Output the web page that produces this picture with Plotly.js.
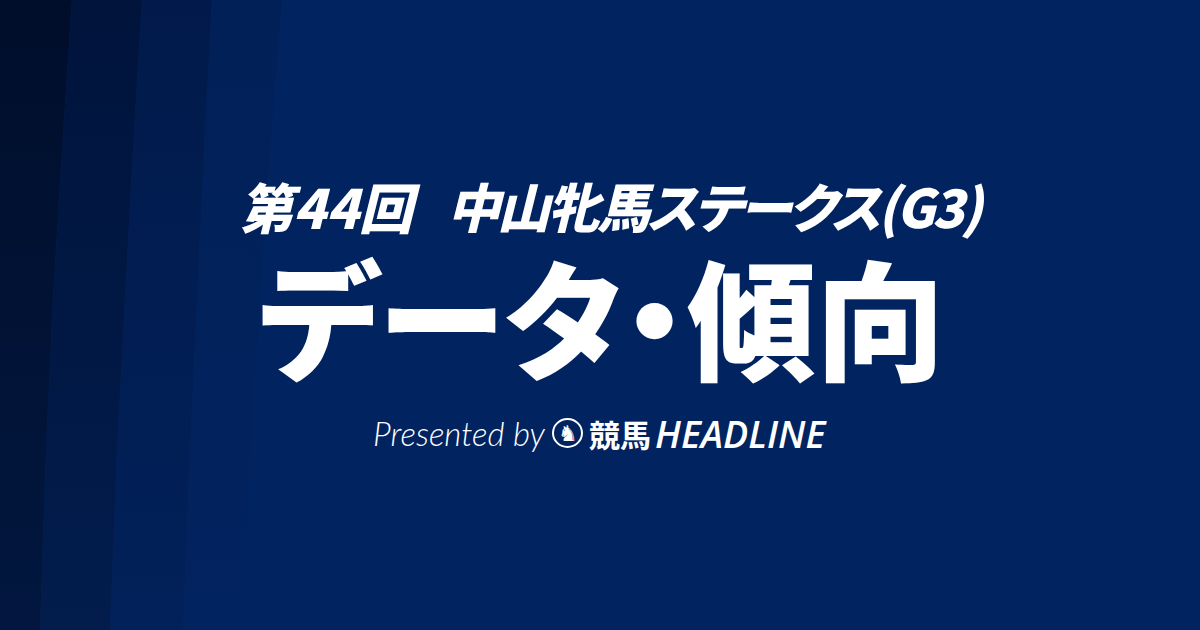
<!DOCTYPE html>
<html>
<head>
<meta charset="utf-8">
<script src="https://cdn.plot.ly/plotly-3.0.1.min.js"></script>
<style>
  html, body { margin: 0; padding: 0; background: #01235f; }
  #banner { width: 1200px; height: 630px; }
</style>
</head>
<body>
<div id="banner"></div>
<script>
// background stripes: boundary x positions at these heights (pixels from top)
var stripeY = [0, 150, 300, 450, 630];
var stripeEdges = [
	[72, 62, 53, 46, 40],
	[142, 133, 125, 117, 110],
	[212, 204, 197, 190, 183],
	[282, 270, 260, 250, 240]
];
// top colour / bottom colour of each stripe, leftmost first
var stripeTop = ['#000e2b', '#00143c', '#011a4b', '#012058'];
var stripeBottom = ['#02173f', '#021c4c', '#01215a', '#01235f'];
var bgColor = '#01235f';

// texts
var titleRound = '第44回';
var titleRace = '中山牝馬ステークス(G3)';
var subtitle = 'データ・傾向';
var presented = 'Presented by';
var brandJa = '競馬';
var brandEn = 'HEADLINE';

// proportional kana widths, like the original lettering
function palt(s, spacing) {
	return '<span style="font-feature-settings:\'palt\';letter-spacing:' + (spacing || 0) + 'px">' + s + '</span>';
}

var traces = [];
for (var i = 0; i < stripeEdges.length; i++) {
	var left = i === 0 ? stripeY.map(function() { return 0; }) : stripeEdges[i - 1];
	var right = stripeEdges[i];
	traces.push({
		type: 'scatter',
		mode: 'lines',
		x: right.concat(left.slice().reverse()),
		y: stripeY.concat(stripeY.slice().reverse()),
		fill: 'toself',
		line: { width: 0, color: stripeTop[i] },
		fillgradient: {
			type: 'vertical',
			start: 0,
			stop: 630,
			colorscale: [[0, stripeTop[i]], [1, stripeBottom[i]]]
		},
		hoverinfo: 'skip',
		showlegend: false
	});
}

var white = '#ffffff';
var annotations = [
	{
		x: 330, y: 205, text: palt(titleRound),
		font: { family: 'Noto Sans CJK JP', size: 54, color: white, weight: 900, style: 'italic' }
	},
	{
		x: 716, y: 205, text: palt(titleRace, -3),
		font: { family: 'Noto Sans CJK JP', size: 53, color: white, weight: 900, style: 'italic' }
	},
	{
		x: 601, y: 314, text: palt(subtitle),
		font: { family: 'Noto Sans CJK JP', size: 129, color: white, weight: 900 }
	},
	{
		x: 371, y: 433, text: presented, xanchor: 'left',
		font: { family: 'Lato', size: 33, color: white, weight: 300, style: 'italic' }
	},
	{
		x: 567.5, y: 433, text: '♞',
		font: { family: 'DejaVu Sans', size: 22, color: white }
	},
	{
		x: 587, y: 433, text: brandJa, xanchor: 'left',
		font: { family: 'Noto Sans CJK JP', size: 31, color: white, weight: 700 }
	},
	{
		x: 653, y: 433, text: brandEn, xanchor: 'left',
		font: { family: 'Open Sans', size: 37.5, color: white, weight: 600, style: 'italic' }
	}
].map(function(a) {
	a.xref = 'x';
	a.yref = 'y';
	a.showarrow = false;
	a.xanchor = a.xanchor || 'center';
	a.yanchor = 'middle';
	return a;
});

var layout = {
	width: 1200,
	height: 630,
	margin: { l: 0, r: 0, t: 0, b: 0 },
	paper_bgcolor: bgColor,
	plot_bgcolor: 'rgba(0,0,0,0)',
	xaxis: { range: [0, 1200], visible: false, fixedrange: true },
	yaxis: { range: [630, 0], visible: false, fixedrange: true },
	showlegend: false,
	annotations: annotations,
	shapes: [{
		type: 'circle',
		xref: 'x', yref: 'y',
		x0: 553, x1: 582, y0: 419, y1: 447,
		line: { color: white, width: 2 }
	}]
};

Plotly.newPlot('banner', traces, layout, { displayModeBar: false, staticPlot: true });
</script>
</body>
</html>
